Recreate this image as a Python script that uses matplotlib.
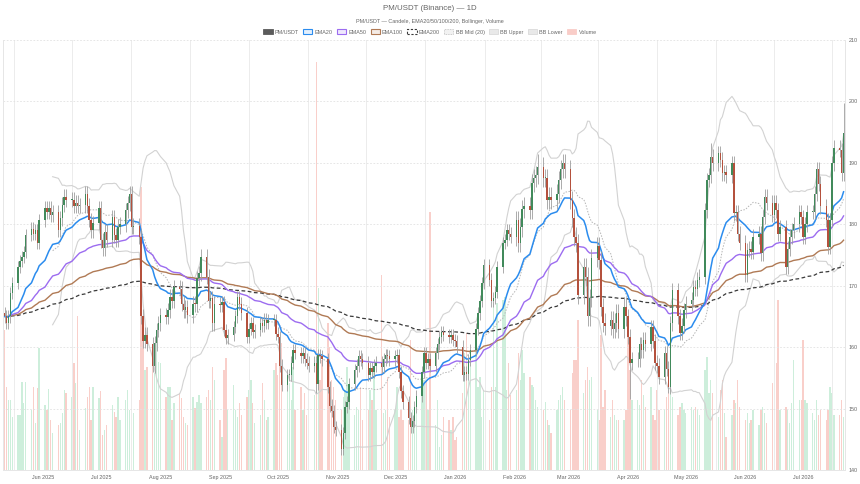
import numpy as np
import pandas as pd
import matplotlib
matplotlib.use('Agg')
import matplotlib.pyplot as plt
from matplotlib.patches import Patch

plt.rcParams['font.family'] = ['Liberation Sans', 'DejaVu Sans']

# ---- data (business days only) ----
start = '2025-05-12'
first_open = 165.5

close_2025_05 = [165, 164, 165, 168.8, 170.4, 173, 174, 174.7, 175.5, 178.3, 179.3, 178.5, 179, 177, 180.7]
close_2025_06 = [182.6, 182, 182.6, 181.5, 182, 179.1, 181, 183.2, 184.5, 184, 184, 183, 183.5, 183, 183.1,
                 185, 183, 180.7, 179, 180.2, 182.6]
close_2025_07 = [177.4, 176.1, 178.8, 177.5, 181.2, 178.2, 177.5, 179.6, 180, 182.3, 183.4, 185, 179.6, 179.8,
                 178, 165, 161, 162, 160.5, 157, 160.6, 162.8, 163.9]
close_2025_08 = [165.2, 164.9, 166, 168.2, 167.5, 169.8, 169.5, 167.1, 166, 166.5, 165.2, 167.1, 167, 171.2,
                 172, 174.7, 171.5, 167.5, 168, 163.9, 167.1]
close_2025_09 = [166.8, 167.4, 162.8, 161.5, 162, 163.3, 165, 168.2, 167.1, 165.5, 161.7, 163, 163.9, 162.5,
                 162.8, 163.9, 163.5, 164.5, 164, 164.4, 164.4, 162.2]
close_2025_10 = [161.7, 157, 153.8, 155.5, 155.5, 157.5, 159.5, 159, 158.5, 159, 158, 157.5, 157, 157.5, 154,
                 158.7, 158.5, 158, 153.5, 150.5, 149.6, 147, 146.5]
close_2025_11 = [143.5, 146, 150.2, 151, 154, 156.2, 157, 158.5, 158, 157.5, 155.5, 156.6, 156, 157, 157.5,
                 156.8, 158, 158.7, 158.5, 158]
close_2025_12 = [158.5, 158.7, 156, 152.8, 151, 148.5, 147, 148, 150.3, 152, 156, 159, 157.5, 158, 157, 159,
                 160.5, 161.7, 162.5, 162, 161.7, 162, 161.2]
close_2026_01 = [161, 160.1, 155.5, 156, 155.7, 157.9, 159.5, 163, 165.5, 167.5, 170.5, 173.3, 171, 167.5, 168,
                 169, 173, 176.9, 177.5, 179, 178.5, 178]
close_2026_02 = [180.7, 177, 179.5, 182.5, 182.9, 182.3, 186.7, 187.5, 188, 189.4, 187.5, 187.5, 184, 184.5,
                 184, 185, 187.2, 189, 190, 189]
close_2026_03 = [184, 181, 178, 177, 168.5, 173, 171.5, 165, 168, 174.5, 176.4, 174.2, 166.5, 164, 163.5, 164.4,
                 163, 164, 165.5, 163, 166.6, 165]
close_2026_04 = [161.7, 157.5, 158, 158, 160.5, 159.5, 161.2, 160.5, 163.3, 161, 157.5, 157, 155.2, 159, 156.5,
                 153.5, 163.9, 169.3, 165, 162.3, 163.5, 166]
close_2026_05 = [167.1, 167.7, 169.8, 169.5, 171, 171.5, 182.3, 187.2, 188, 191, 189.9, 191.6, 190.5, 188.3,
                 188.5, 188, 189.9, 181.8, 182, 178.5, 177]
close_2026_06 = [171.8, 175.8, 176, 175.5, 178, 178.5, 175.3, 181.2, 184.5, 183.5, 181.5, 183.5, 182.3, 178.5,
                 179.5, 173.1, 176, 178, 179, 180, 182, 181.2]
close_2026_07 = [178, 180, 182, 182, 185, 189, 186.6, 182.9, 180.7, 176.3, 180.7, 189.9, 192.5, 192.1, 188.3,
                 194.8]

vol_2025_05 = [140, 83, 70, 70, 53, 55, 55, 88, 67, 88, 60, 83, 47, 82, 122]
vol_2025_06 = [65, 60, 81, 50, 37, 45, 47, 57, 80, 77, 73, 107, 87, 154, 40, 62, 73, 83, 50, 83, 72]
vol_2025_07 = [79, 35, 40, 45, 65, 58, 53, 73, 50, 70, 80, 60, 98, 57, 70, 283, 133, 100, 103, 110, 97, 133, 108]
vol_2025_08 = [107, 73, 83, 83, 50, 67, 77, 72, 53, 47, 45, 73, 62, 68, 75, 67, 73, 80, 70, 103, 90]
vol_2025_09 = [50, 33, 100, 112, 60, 85, 60, 53, 67, 55, 73, 80, 90, 67, 47, 55, 87, 70, 50, 53, 100, 107]
vol_2025_10 = [95, 123, 127, 97, 87, 70, 103, 60, 83, 60, 77, 55, 70, 75, 408, 182, 90, 110, 147, 123, 90, 83, 70]
vol_2025_11 = [60, 73, 80, 103, 77, 55, 63, 60, 83, 50, 60, 80, 70, 100, 60, 195, 57, 60, 93, 53]
vol_2025_12 = [60, 83, 53, 60, 50, 50, 130, 60, 63, 70, 77, 90, 90, 60, 258, 45, 70, 23, 35, 53, 50, 40, 53]
vol_2026_01 = [30, 33, 77, 117, 137, 97, 117, 133, 83, 93, 53, 80, 50, 83, 167, 83, 167, 170, 173, 80, 107, 75]
vol_2026_02 = [80, 117, 90, 120, 97, 93, 85, 83, 70, 63, 60, 68, 50, 45, 37, 60, 70, 75, 83, 70]
vol_2026_03 = [60, 97, 110, 110, 150, 77, 90, 103, 90, 93, 60, 50, 135, 63, 80, 53, 70, 55, 50, 50, 50, 60]
vol_2026_04 = [147, 100, 70, 70, 65, 90, 75, 63, 83, 55, 50, 80, 60, 60, 73, 80, 90, 73, 55, 63, 67, 60]
vol_2026_05 = [57, 63, 60, 63, 60, 55, 100, 113, 77, 90, 77, 53, 80, 90, 57, 33, 55, 70, 67, 90, 63]
vol_2026_06 = [50, 57, 47, 50, 60, 45, 60, 63, 57, 47, 87, 87, 107, 170, 60, 63, 60, 47, 67, 110, 70, 70]
vol_2026_07 = [130, 70, 67, 57, 50, 70, 55, 60, 50, 60, 83, 77, 55, 55, 70, 53]

# typical wick length per month, and a few visibly longer wicks (date: high, low)
wick_month = [1.0, 1.2, 1.2, 1.2, 1.0, 1.0, 1.0, 1.0, 1.0, 1.5, 1.5, 1.2, 1.2, 1.2, 1.2]
wick_extremes = {'2025-07-28': (None, 156.0), '2025-10-21': (None, 152.5), '2025-11-03': (None, 142.5),
                 '2026-02-13': (191.5, None), '2026-04-02': (None, 151.5), '2026-04-22': (None, 152.5),
                 '2026-05-14': (193.2, None), '2026-07-22': (199.7, None)}

close_months = [close_2025_05, close_2025_06, close_2025_07, close_2025_08, close_2025_09, close_2025_10,
                close_2025_11, close_2025_12, close_2026_01, close_2026_02, close_2026_03, close_2026_04,
                close_2026_05, close_2026_06, close_2026_07]
vol_months = [vol_2025_05, vol_2025_06, vol_2025_07, vol_2025_08, vol_2025_09, vol_2025_10, vol_2025_11,
              vol_2025_12, vol_2026_01, vol_2026_02, vol_2026_03, vol_2026_04, vol_2026_05, vol_2026_06,
              vol_2026_07]
closes = sum(close_months, [])
volumes = sum(vol_months, [])

# ---- derived series ----
dates = pd.bdate_range(start, periods=len(closes))
c = np.array(closes, dtype=float)
o = np.concatenate([[first_open], c[:-1]])
w = np.repeat(wick_month, [len(m) for m in close_months])
h = np.maximum(o, c) + w
l = np.minimum(o, c) - w
for d, (hh, ll) in wick_extremes.items():
    k = dates.get_loc(pd.Timestamp(d))
    if hh is not None:
        h[k] = hh
    if ll is not None:
        l[k] = ll
x = np.array((dates - dates[0]).days, dtype=float)
up = c >= o

s = pd.Series(c)
ema = {n: s.ewm(span=n, adjust=False).mean().values for n in (20, 50, 100, 200)}
mid = s.rolling(20).mean()
sd = s.rolling(20).std(ddof=0)
bb_up = (mid + 2 * sd).values
bb_lo = (mid - 2 * sd).values
bb_mid = mid.values

# ---- style ----
c_up, c_dn = '#418a5b', '#b4513d'
c_vup, c_vdn = '#cdeedb', '#f9cfca'
c_ema20, c_ema50, c_ema100, c_ema200 = '#2b8cee', '#9c6cf0', '#b07a55', '#3a3a3a'
c_bb, c_bbmid = '#d2d2d2', '#b5b5b5'
c_txt = '#666666'

fig = plt.figure(figsize=(8.6, 4.84), dpi=100)
rect = [3/860, 14/484, 842/860, 430/484]
axv = fig.add_axes(rect)
ax = fig.add_axes(rect)
ax.patch.set_visible(False)

xlim = (x[0] - 0.8, x[-1] + 0.75)

# volume on its own hidden scale
axv.bar(x, volumes, width=0.72, color=np.where(up, c_vup, c_vdn), linewidth=0)
axv.set_ylim(0, 430)
axv.set_xlim(*xlim)
axv.axis('off')

# grid: vertical lines sit between the month labels
ticks_dt = pd.date_range('2025-06-01', '2026-07-01', freq='MS')
ticks = np.array([(t - dates[0]).days for t in ticks_dt], dtype=float)
gx = np.concatenate([[ticks[0] - (ticks[1] - ticks[0]) / 2], (ticks[:-1] + ticks[1:]) / 2,
                     [ticks[-1] + (ticks[-1] - ticks[-2]) / 2]])
for g in gx:
    ax.axvline(g, color='#ececec', lw=0.7, zorder=0)
for yv in range(140, 211, 10):
    ax.axhline(yv, color='#e2e2e2', lw=0.6, ls=(0, (2, 2)), zorder=0)

# bollinger
ax.plot(x, bb_up, color=c_bb, lw=0.8, zorder=1)
ax.plot(x, bb_lo, color=c_bb, lw=0.8, zorder=1)
ax.plot(x, bb_mid, color=c_bbmid, lw=0.7, ls=(0, (1.5, 1.5)), zorder=1)

# emas
ax.plot(x, ema[200], color=c_ema200, lw=0.9, ls=(0, (3, 2)), zorder=2)
ax.plot(x, ema[100], color=c_ema100, lw=1.0, zorder=2)
ax.plot(x, ema[50], color=c_ema50, lw=1.0, zorder=2)
ax.plot(x, ema[20], color=c_ema20, lw=1.1, zorder=2)

# candles
ax.vlines(x, l, h, color='#9e9e9e', lw=0.6, zorder=3)
body = np.maximum(np.abs(c - o), 0.15)
ax.bar(x, body, bottom=np.minimum(o, c), width=0.75, color=np.where(up, c_up, c_dn), linewidth=0, zorder=4)

ax.set_xlim(*xlim)
ax.set_ylim(140, 210)
ax.set_yticks(range(140, 211, 10))
ax.yaxis.tick_right()
ax.set_xticks(ticks)
ax.set_xticklabels([t.strftime('%b %Y') for t in ticks_dt])
ax.tick_params(axis='both', length=0, labelsize=3.9, colors=c_txt)
ax.tick_params(axis='y', pad=2.5)
ax.tick_params(axis='x', pad=3.5)
ax.spines['top'].set_visible(False)
for side in ('left', 'right', 'bottom'):
    ax.spines[side].set_color('#e6e6e6')
    ax.spines[side].set_linewidth(0.7)

# titles
fig.text(0.5, 1 - 9/484, 'PM/USDT (Binance) — 1D', ha='center', va='center', fontsize=5.7, color=c_txt)
fig.text(0.5, 1 - 21/484, 'PM/USDT — Candele, EMA20/50/100/200, Bollinger, Volume',
         ha='center', va='center', fontsize=3.9, color=c_txt)

handles = [
    Patch(fc='#5b5b5b', ec='#5b5b5b', lw=0.6, label='PM/USDT'),
    Patch(fc='#e4f0fd', ec=c_ema20, lw=0.8, label='EMA20'),
    Patch(fc='#efe8fd', ec=c_ema50, lw=0.8, label='EMA50'),
    Patch(fc='#f5ece6', ec=c_ema100, lw=0.8, label='EMA100'),
    Patch(fc='white', ec=c_ema200, lw=0.8, ls=(0, (2, 1.5)), label='EMA200'),
    Patch(fc='#f2f2f2', ec='#bdbdbd', lw=0.6, ls=(0, (1, 1)), label='BB Mid (20)'),
    Patch(fc='#e9e9e9', ec='#dadada', lw=0.6, label='BB Upper'),
    Patch(fc='#e9e9e9', ec='#dadada', lw=0.6, label='BB Lower'),
    Patch(fc='#f9cdc8', ec='#f9cdc8', lw=0.6, label='Volume'),
]
fig.legend(handles=handles, loc='center', bbox_to_anchor=(0.5, 1 - 32/484), ncol=9, frameon=False,
           fontsize=3.9, handlelength=1.7, handleheight=0.9, handletextpad=0.4, columnspacing=0.8,
           labelcolor=c_txt, borderaxespad=0, borderpad=0)

fig.savefig('out.png', dpi=100)
